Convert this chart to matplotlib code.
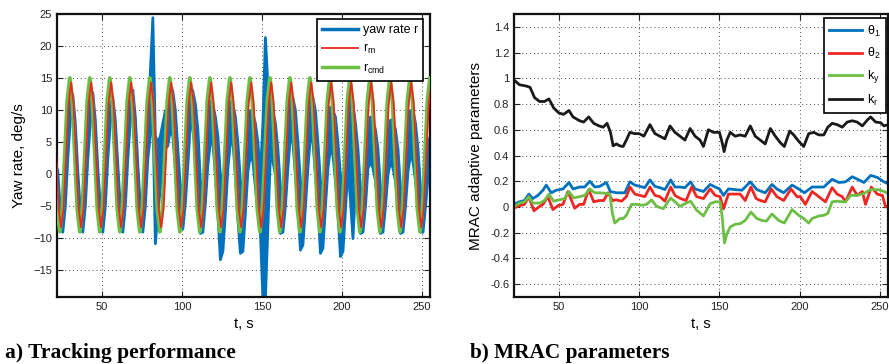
# Yaw rate tracking and MRAC adaptive parameters
import numpy as np
import matplotlib
matplotlib.use('Agg')
import matplotlib.pyplot as plt

plt.rcParams['font.family'] = ['Liberation Sans', 'DejaVu Sans']

# Left panel: signals sampled every 1.5625 s (8 samples per 12.5 s cycle)
t_grid = 30 + 1.5625 * np.arange(-6, 145)

r_cmd = [3, -5.5, -9, -5.5, 3, 11.5,
         15, 11.5, 3, -5.5, -9, -5.5, 3, 11.5,
         15, 11.5, 3, -5.5, -9, -5.5, 3, 11.5,
         15, 11.5, 3, -5.5, -9, -5.5, 3, 11.5,
         15, 11.5, 3, -5.5, -9, -5.5, 3, 11.5,
         15, 11.5, 3, -5.5, -9, -5.5, 3, 11.5,
         15, 11.5, 3, -5.5, -9, -5.5, 3, 11.5,
         15, 11.5, 3, -5.5, -9, -5.5, 3, 11.5,
         15, 11.5, 3, -5.5, -9, -5.5, 3, 11.5,
         15, 11.5, 3, -5.5, -9, -5.5, 3, 11.5,
         15, 11.5, 3, -5.5, -9, -5.5, 3, 11.5,
         15, 11.5, 3, -5.5, -9, -5.5, 3, 11.5,
         15, 11.5, 3, -5.5, -9, -5.5, 3, 11.5,
         15, 11.5, 3, -5.5, -9, -5.5, 3, 11.5,
         15, 11.5, 3, -5.5, -9, -5.5, 3, 11.5,
         15, 11.5, 3, -5.5, -9, -5.5, 3, 11.5,
         15, 11.5, 3, -5.5, -9, -5.5, 3, 11.5,
         15, 11.5, 3, -5.5, -9, -5.5, 3, 11.5,
         15, 11.5, 3, -5.5, -9, -5.5, 3, 11.5,
         15]

# reference model output lags the command by ~0.8 s
t_m = t_grid + 0.8
r_m = [3, -5.3, -8.3, -5.3, 3, 11,
       14.3, 11, 3, -5.3, -8.3, -5.3, 3, 11,
       14.3, 11, 3, -5.3, -8.3, -5.3, 3, 11,
       14.3, 11, 3, -5.3, -8.3, -5.3, 3, 11,
       14.3, 11, 3, -5.3, -8.3, -5.3, 3, 11,
       14.3, 11, 3, -5.3, -8.3, -5.3, 3, 11,
       14.3, 11, 3, -5.3, -8.3, -5.3, 3, 11,
       14.3, 11, 3, -5.3, -8.3, -5.3, 3, 11,
       14.3, 11, 3, -5.3, -8.3, -5.3, 3, 11,
       14.3, 11, 3, -5.3, -8.3, -5.3, 3, 11,
       14.3, 11, 3, -5.3, -8.3, -5.3, 3, 11,
       14.3, 11, 3, -5.3, -8.3, -5.3, 3, 11,
       14.3, 11, 3, -5.3, -8.3, -5.3, 3, 11,
       14.3, 11, 3, -5.3, -8.3, -5.3, 3, 11,
       14.3, 11, 3, -5.3, -8.3, -5.3, 3, 11,
       14.3, 11, 3, -5.3, -8.3, -5.3, 3, 11,
       14.3, 11, 3, -5.3, -8.3, -5.3, 3, 11,
       14.3, 11, 3, -5.3, -8.3, -5.3, 3, 11,
       14.3, 11, 3, -5.3, -8.3, -5.3, 3, 11,
       14.3]

# measured yaw rate is very noisy -> drawn as its upper/lower envelope
r_hi = [2, 0.5, -5.5, -6.5, -1.5, 6,
        11.5, 12.5, 8, 0.5, -5.5, -6.5, -1.5, 6,
        11.5, 12.8, 8.5, 1, -5, -6.5, -1.5, 6,
        11, 12, 8.5, 1.5, -5, -6.5, -1.5, 6,
        12, 13.2, 9, 1.5, -5, -6.5, -1, 7,
        16, 24.5, 6, 5, 6, 8, 10, 10,
        14, 13, 10, 4, -2, -2, 2, 9,
        14, 13, 11, 7, -1, -2.5, 2, 9,
        11.5, 11, 9, 6, 0, -2, 2, 8,
        11.5, 11, 9, 5, -1, -2.5, 1.5, 7.5,
        10, 9.5, 8, 5, 0, 8, 21.4, 14,
        12, 10, 8, 4, -2, -3, 1, 8,
        13, 12, 10, 5, -1, -2, 1.5, 8,
        12.6, 12, 10, 5, -1, -2, 1.5, 8,
        10.5, 10, 9, 5, 0, -2, 1.5, 8,
        12, 11, 8, 4, -2, -3, 1, 7,
        9, 8.5, 7, 4, -2, -3, 1, 6,
        8.5, 8.5, 7, 4, -2, -3, 1, 7,
        10, 10, 8, 4, -2, -3, 1, 5,
        6]
r_lo = [-1, -3, -8.5, -9, -5, 2.5,
        8.5, 9.5, 4.5, -3, -8.5, -9, -5, 2.5,
        8, 9.5, 4.5, -3, -8.5, -9, -5, 2.5,
        8, 9, 4.5, -3, -8.5, -9, -5, 2.5,
        8.5, 9.5, 4.5, -3, -8.5, -9, -5, 2.5,
        6, 10, -10.8, -6, -2, 1, 4, 4.5,
        7, 6, 1, -5, -8, -8.5, -4.5, 1.5,
        8, 7, 4, -3, -9.2, -9, -4.5, 1.5,
        5, 5, 0, -6, -13.3, -12, -6, 1,
        5, 5, 0, -7, -12.3, -12, -6, 0.5,
        3, 2, -2, -6, -9, -19.5, -19.5, -8,
        3, 2, 0, -4, -9.2, -9, -5, 1,
        6, 5, 0, -5, -11.8, -11, -5, 1,
        6, 5, 0, -5, -12.3, -11.5, -5, 1,
        4, 3, -1, -6, -12.8, -12, -5.5, 1,
        -4, -10, -2, -5, -9.2, -9, -5, 1,
        2, 1, -1, -5, -9.2, -9, -5, 0,
        2, 1, -1, -5, -9.2, -9, -5, 0.5,
        3, 2, -1, -5, -9, -9, -5, -0.5,
        0]

# Right panel: adaptive parameters (time, value)
kr_t = [21.7, 25.4, 29.6, 32, 34.8, 37.9, 41, 43.75, 46.7, 50, 52.9, 56.25, 58.75,
        62.9, 65.4, 68.5, 71.7, 75, 77.5, 80, 82.1, 83.75, 85.8, 87.9, 90, 92, 94.2,
        97.3, 100, 102.9, 106.7, 109.8, 112.9, 116, 119.2, 122.3, 125.4, 128.5, 131.7,
        134.8, 137.9, 140, 143.1, 146.25, 150, 151.5, 152.9, 154.6, 156.7, 159.8, 162.9,
        166, 169.2, 172.3, 175.4, 178.5, 181.7, 184.8, 187.9, 190.4, 193.75, 196.25,
        199.4, 202.5, 205.6, 208.75, 211.9, 215, 217.5, 220.2, 223.3, 226.5, 229.6,
        232.7, 235.8, 239, 242.1, 244.2, 247.3, 250.4, 252.5, 255.2]
kr_v = [0.99, 0.95, 0.94, 0.93, 0.85, 0.82, 0.82, 0.84, 0.77, 0.73, 0.72, 0.75, 0.70,
        0.67, 0.66, 0.70, 0.65, 0.63, 0.62, 0.65, 0.58, 0.475, 0.49, 0.475, 0.47, 0.52,
        0.58, 0.57, 0.57, 0.55, 0.64, 0.57, 0.55, 0.53, 0.63, 0.58, 0.55, 0.52, 0.61,
        0.55, 0.52, 0.47, 0.60, 0.58, 0.58, 0.51, 0.43, 0.52, 0.58, 0.55, 0.56, 0.55,
        0.63, 0.55, 0.52, 0.49, 0.61, 0.55, 0.50, 0.47, 0.59, 0.56, 0.51, 0.47, 0.57,
        0.58, 0.56, 0.56, 0.62, 0.65, 0.64, 0.62, 0.66, 0.67, 0.66, 0.63, 0.675, 0.70,
        0.66, 0.655, 0.63, 0.64]

th1_t = [21.7, 25.4, 28.5, 31.25, 33.75, 36.9, 40, 42.1, 45.2, 48.3, 52.5, 56.25,
         58.75, 62.9, 66, 69.2, 72.3, 75.4, 79.6, 82, 85.8, 91, 94.2, 97.3, 100.4,
         103.5, 106.7, 109.8, 112.9, 116, 119.6, 122.3, 125.4, 128.5, 132, 134.8, 140,
         144.2, 147.3, 150, 152.5, 155.6, 159.8, 164, 169.2, 173.3, 178.5, 182.7, 185.8,
         190, 195.2, 199.4, 202.9, 207.7, 211.9, 215, 220.2, 224.4, 228.5, 232.7, 236.9,
         240, 244.2, 248.3, 252.5, 255.2]
th1_v = [0.02, 0.04, 0.05, 0.10, 0.065, 0.09, 0.13, 0.17, 0.11, 0.13, 0.14, 0.19,
         0.14, 0.155, 0.155, 0.20, 0.155, 0.16, 0.19, 0.12, 0.11, 0.11, 0.195, 0.17,
         0.16, 0.15, 0.21, 0.16, 0.15, 0.135, 0.21, 0.155, 0.155, 0.15, 0.195, 0.14,
         0.12, 0.175, 0.155, 0.14, 0.09, 0.14, 0.135, 0.13, 0.195, 0.135, 0.11, 0.175,
         0.14, 0.11, 0.17, 0.14, 0.11, 0.155, 0.155, 0.155, 0.215, 0.19, 0.195, 0.235,
         0.21, 0.19, 0.245, 0.23, 0.195, 0.18]

th2_t = [21.7, 25.4, 28.5, 31.25, 34.4, 37.5, 40, 43.1, 46.25, 49.4, 52.5, 55.6, 59.8,
         62.9, 65.4, 68.5, 71.7, 75, 77.9, 80.6, 83.3, 85.8, 89, 92, 94.2, 97.3, 100.4,
         103.5, 106.7, 109.8, 112.9, 116, 119.6, 122.3, 125.8, 129.2, 132.7, 135.8, 140,
         144.2, 147.3, 150.4, 152.5, 155.6, 159.8, 162.9, 166, 169.6, 172.9, 175.4, 178.5,
         182.3, 185.8, 190, 194.6, 198.3, 200.4, 203.5, 207.7, 211.9, 216, 220.2, 223.3,
         226.5, 228.5, 232.7, 235.8, 239, 241, 244.6, 248.3, 251.5, 253.5, 255.2]
th2_v = [-0.01, 0.01, 0.02, 0.08, -0.03, 0.0, 0.02, 0.08, -0.02, 0.01, 0.02, 0.12, -0.01,
         0.02, 0.02, 0.135, 0.04, 0.05, 0.05, 0.11, 0.05, 0.055, 0.045, 0.08, 0.155, 0.10,
         0.09, 0.08, 0.155, 0.09, 0.08, 0.045, 0.155, 0.09, 0.065, 0.05, 0.155, 0.08,
         0.065, 0.14, 0.09, 0.08, -0.015, 0.10, 0.10, 0.10, 0.05, 0.155, 0.065, 0.05,
         0.04, 0.14, 0.08, 0.05, 0.14, 0.08, 0.08, 0.02, 0.12, 0.08, 0.04, 0.15, 0.10,
         0.08, 0.04, 0.155, 0.09, 0.12, 0.02, 0.155, 0.10, 0.09, 0.0, 0.01]

ky_t = [21.7, 25.4, 28.5, 31.25, 33.75, 37.9, 41, 43.75, 46.7, 50, 53.5, 56.25, 59.2,
        62.9, 66, 69.2, 72.3, 75.4, 79.6, 81.7, 83.3, 84.8, 87.9, 90, 92, 95.2, 98.3,
        101.5, 104.6, 107.7, 110.8, 115, 119.6, 122.3, 125.4, 128.5, 132, 135.8, 140,
        144.2, 147.3, 150.4, 151.7, 153.1, 154.6, 156.7, 159.8, 162.9, 166, 169.6, 173.3,
        176.5, 179.2, 182.7, 186.9, 190.4, 195.2, 199.4, 202.5, 205.6, 207.7, 211.9, 215,
        217.5, 220.2, 223.3, 226.5, 228.5, 231.7, 235.8, 240, 244.2, 248.3, 251.5, 255.2]
ky_v = [0.0, 0.03, 0.04, 0.08, 0.03, 0.03, 0.05, 0.10, 0.045, 0.055, 0.065, 0.12, 0.07,
        0.08, 0.09, 0.14, 0.11, 0.11, 0.105, 0.10, -0.05, -0.125, -0.09, -0.09, -0.065,
        0.02, 0.02, 0.013, 0.02, 0.055, 0.005, -0.013, 0.07, 0.04, 0.005, 0.025, 0.045,
        -0.025, -0.07, 0.025, 0.04, 0.04, -0.08, -0.28, -0.21, -0.155, -0.135, -0.13,
        -0.105, -0.04, -0.09, -0.105, -0.11, -0.055, -0.105, -0.125, -0.02, -0.065, -0.09,
        -0.125, -0.09, -0.07, -0.065, -0.05, 0.04, 0.045, 0.04, 0.04, 0.09, 0.09, 0.105,
        0.135, 0.135, 0.125, 0.105]

c_blue = '#0072BD'
c_red = '#EE2722'
c_green = '#6CBE45'
c_black = '#1a1a1a'

fig = plt.figure(figsize=(8.89, 3.64), dpi=100)
ax1 = fig.add_axes([57/889, 1 - 297/364, 373/889, 283/364])
ax2 = fig.add_axes([514/889, 1 - 297/364, 374/889, 283/364])


def matlab_style(ax):
    ax.grid(True, linestyle=(0, (1, 3)), color='0.3', linewidth=0.7)
    ax.set_axisbelow(True)
    ax.tick_params(direction='in', top=True, right=True, length=4, width=0.8,
                   labelsize=8, colors='#222222')
    for s in ax.spines.values():
        s.set_linewidth(1.6)
        s.set_color('#111111')


# --- a) tracking performance
ax1.fill_between(t_grid, r_lo, r_hi, color=c_blue, edgecolor=c_blue,
                 linewidth=2.0, zorder=2)
ax1.plot([], [], color=c_blue, lw=2.5, label='yaw rate r')
ax1.plot(t_grid, r_cmd, color=c_green, lw=2.8, zorder=3)
ax1.plot(t_m, r_m, color=c_red, lw=1.3, zorder=4, label=r'r$_\mathregular{m}$')
ax1.plot([], [], color=c_green, lw=2.5, label=r'r$_\mathregular{cmd}$')
ax1.set_xlim(22, 255)
ax1.set_ylim(-19.2, 25)
ax1.set_xticks([50, 100, 150, 200, 250])
ax1.set_yticks(np.arange(-15, 26, 5))
ax1.set_xlabel('t, s', fontsize=10.5, labelpad=4)
ax1.set_ylabel('Yaw rate, deg/s', fontsize=11, labelpad=5)
matlab_style(ax1)
leg1 = ax1.legend(loc='upper right', bbox_to_anchor=(0.985, 0.985), fontsize=9,
                  frameon=True, fancybox=False, framealpha=1, edgecolor='black',
                  handlelength=2.9, handletextpad=0.4, labelspacing=0.45,
                  borderpad=0.4, borderaxespad=0.1)
leg1.get_frame().set_linewidth(1.2)

# --- b) MRAC parameters
ax2.plot(th1_t, th1_v, color=c_blue, lw=2, label=r'θ$_\mathregular{1}$')
ax2.plot(th2_t, th2_v, color=c_red, lw=2, label=r'θ$_\mathregular{2}$')
ax2.plot(ky_t, ky_v, color=c_green, lw=2, label=r'k$_\mathregular{y}$')
ax2.plot(kr_t, kr_v, color=c_black, lw=2, label=r'k$_\mathregular{r}$')
ax2.set_xlim(22, 255)
ax2.set_ylim(-0.7, 1.5)
ax2.set_xticks([50, 100, 150, 200, 250])
ax2.set_yticks(np.round(np.arange(-0.6, 1.41, 0.2), 1))
ax2.yaxis.set_major_formatter(plt.FormatStrFormatter('%g'))
ax2.set_xlabel('t, s', fontsize=10.5, labelpad=4)
ax2.set_ylabel('MRAC adaptive parameters', fontsize=11, labelpad=5)
matlab_style(ax2)
leg2 = ax2.legend(loc='upper right', bbox_to_anchor=(0.998, 0.99), fontsize=9,
                  frameon=True, fancybox=False, framealpha=1, edgecolor='black',
                  handlelength=2.6, handletextpad=0.4, labelspacing=0.58,
                  borderpad=0.45, borderaxespad=0.1)
leg2.get_frame().set_linewidth(1.2)

fig.text(5/889, 1 - 353/364, 'a) Tracking performance', fontfamily='Liberation Serif',
         fontweight='bold', fontsize=15.5, va='center')
fig.text(470/889, 1 - 353/364, 'b) MRAC parameters', fontfamily='Liberation Serif',
         fontweight='bold', fontsize=15.3, va='center')

fig.savefig('out.png', dpi=100)
